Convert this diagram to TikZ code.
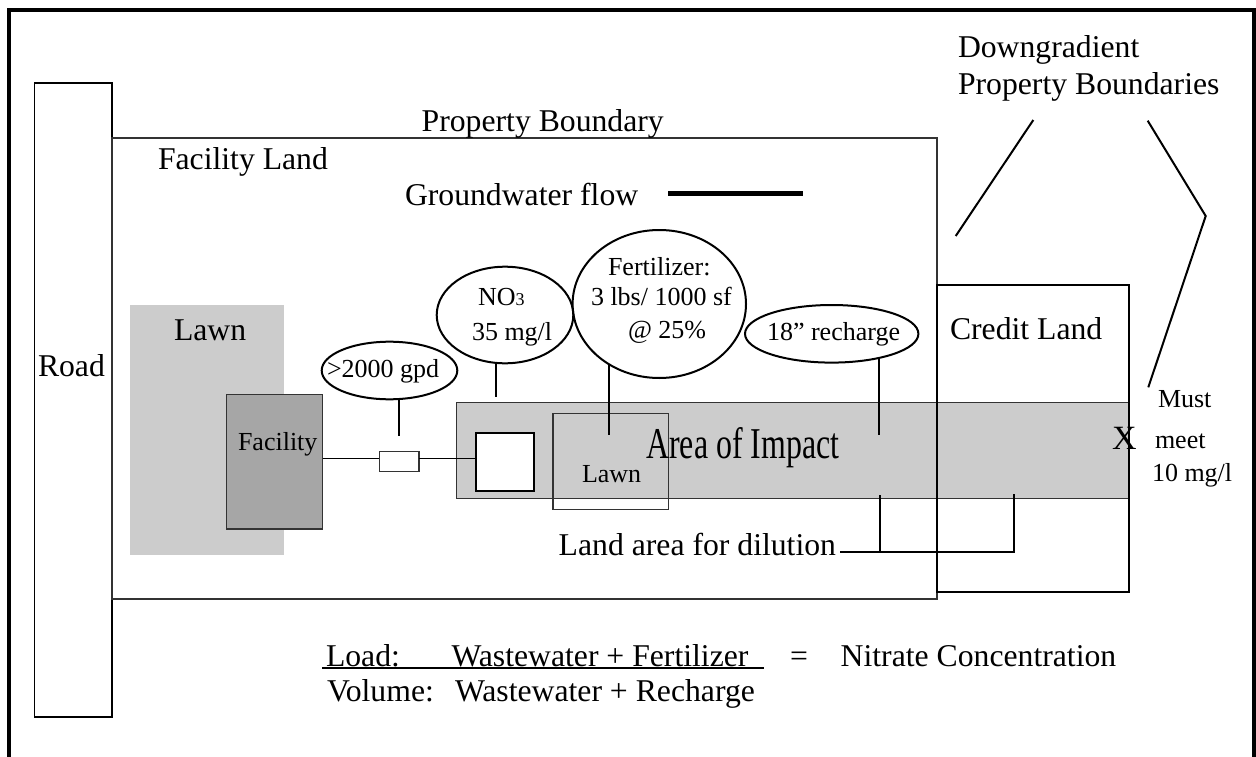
\documentclass[tikz,border=0pt]{standalone}
\usepackage{fontspec}
\setmainfont{Liberation Serif}
\usetikzlibrary{shapes.geometric}
\definecolor{lgray}{HTML}{CCCCCC}
\definecolor{mgray}{HTML}{A6A6A6}
\definecolor{dgray}{HTML}{333333}
\begin{document}
\begin{tikzpicture}[x=1pt,y=-1pt,
  box/.style={rectangle, inner sep=0pt, outer sep=0pt},
  ell/.style={ellipse, draw=black, line width=2pt, inner sep=0pt, outer sep=0pt},
  txt/.style={inner sep=0pt, outer sep=0pt, anchor=base west, font=\fontsize{31.7}{36}\selectfont},
  stxt/.style={inner sep=0pt, outer sep=0pt, anchor=base west, font=\fontsize{26}{30}\selectfont},
  conn/.style={line width=2pt, draw=black},
  thinline/.style={line width=1.3pt}]
\useasboundingbox (0,0) rectangle (1256,757);
\fill[white] (0,0) rectangle (1256,757);
% outer frame (open at the bottom)
\draw[line width=4pt] (8.5,770) -- (8.5,10.5) -- (1254,10.5) -- (1254,770);

% boxes
\node[box, draw=black, thinline, minimum width=77.5pt, minimum height=634pt] (road) at (73.25,400) {};
\node[box, draw=dgray, thinline, minimum width=825pt, minimum height=461pt] (prop) at (524.5,368.5) {};
\node[box, fill=lgray, minimum width=154pt, minimum height=250pt] (lawn) at (207,430) {};
\node[box, fill=mgray, draw=dgray, thinline, minimum width=96pt, minimum height=134.7pt] (fac) at (274.7,461.65) {};
\node[box, fill=lgray, draw=dgray, thinline, minimum width=672.6pt, minimum height=95.6pt] (band) at (793,450.5) {};
\node[box, fill=white, draw=black, line width=2pt, minimum width=58.6pt, minimum height=58.2pt] (tank) at (505,461.6) {};
\node[box, draw=dgray, thinline, minimum width=115.6pt, minimum height=96pt] (lawnsq) at (610.8,461.3) {};
\node[box, draw=black, line width=2pt, minimum width=192.6pt, minimum height=307.3pt] (credit) at (1033,438.65) {};
\node[box, fill=white, draw=dgray, thinline, minimum width=39.7pt, minimum height=20pt] (valve) at (399.15,461.7) {};

% pipe
\coordinate (py) at (0,458.3);
\draw[thinline] (fac.east |- py) -- (valve.west |- py);
\draw[thinline] (valve.east |- py) -- (tank.west |- py);

% ellipses
\node[ell, minimum width=135.6pt, minimum height=57.6pt] (gpd) at (389.5,370.5) {};
\node[ell, minimum width=136.6pt, minimum height=96.6pt] (no3) at (505,315) {};
\node[ell, minimum width=173.4pt, minimum height=148pt] (fert) at (659.3,304) {};
\node[ell, minimum width=173.4pt, minimum height=57.6pt] (rech) at (831.7,333.8) {};

% connectors from ellipses
\draw[conn] (gpd.289) -- ++(0,36.7);
\draw[conn] (no3.259) -- ++(0,34);
\draw[conn] (fert.230.6) -- ++(0,70.4);
\draw[conn] (rech.333.15) -- ++(0,77.1);

% groundwater flow bar
\coordinate (gw1) at (668.3,193.7);
\coordinate (gw2) at (802.7,193.7);
\draw[line width=5.5pt] (gw1) -- (gw2);

% downgradient pointers
\coordinate (d1) at (1033.3,120);
\coordinate (d2) at (955.7,236);
\coordinate (d3) at (1147.7,120.7);
\coordinate (d4) at (1205.7,216);
\coordinate (d5) at (1148.3,387.3);
\draw[conn] (d1) -- (d2);
\draw[conn] (d3) -- (d4) -- (d5);

% dilution bracket
\coordinate (b1) at (840.4,551.7);
\coordinate (b2) at (879.7,551.7);
\coordinate (b3) at (1013.6,551.7);
\draw[conn] (b1) -- (b3) -- (1013.6,494);
\draw[conn] (b2) -- (879.7,495);

% texts
\node[txt] (tpb) at (421.7,131.7) {Property Boundary};
\node[txt] (tfl) at (158,169) {Facility Land};
\node[txt] (tgw) at (405,205) {Groundwater flow};
\node[txt] (tlawn) at (174,340) {Lawn};
\node[txt] (troad) at (38,376) {Road};
\node[stxt] (tfac) at (238,450) {Facility};
\node[stxt] (tgpd) at (327,377) {>2000 gpd};
\node[stxt] (tno) at (478,305) {NO{\fontsize{18}{20}\selectfont 3}};
\node[stxt] (tmg) at (472,340) {35 mg/l};
\node[stxt] (tf1) at (608,275) {Fertilizer:};
\node[stxt] (tf2) at (591,305) {3 lbs/ 1000 sf};
\node[stxt] (tf3) at (628,338) {@ 25\%};
\node[stxt] (trch) at (767,340) {18” recharge};
\node[txt] (tcl) at (950,339) {Credit Land};
\node[inner sep=0pt, anchor=base west, font=\fontsize{44}{48}\selectfont] (taoi) at (646,458) {\scalebox{0.725}[1]{Area of Impact}};
\node[stxt] (tlawn2) at (582,482.7) {Lawn};
\node[inner sep=0pt, anchor=base west, font=\fontsize{34}{38}\selectfont] (tx) at (1112,449) {X};
\node[stxt] (tm1) at (1158,407) {Must};
\node[stxt] (tm2) at (1155,448) {meet};
\node[stxt] (tm3) at (1152,481) {10 mg/l};
\node[txt] (tdg1) at (958,58) {Downgradient};
\node[txt] (tdg2) at (958,95) {Property Boundaries};
\node[txt, anchor=base east] (tdil) at (836,555) {Land area for dilution};

% formula
\node[txt] (tload) at (326,666) {Load:};
\node[txt] (tww) at (451.5,666) {Wastewater + Fertilizer};
\node[txt] (teq) at (790,666) {=};
\node[txt] (tnc) at (840.7,666) {Nitrate Concentration};
\node[txt] (tvol) at (327,701.7) {Volume:};
\node[txt] (twr) at (455,701.7) {Wastewater + Recharge};
\draw[line width=1.8pt] (322,668.3) -- (764,668.3);
\end{tikzpicture}
\end{document}
